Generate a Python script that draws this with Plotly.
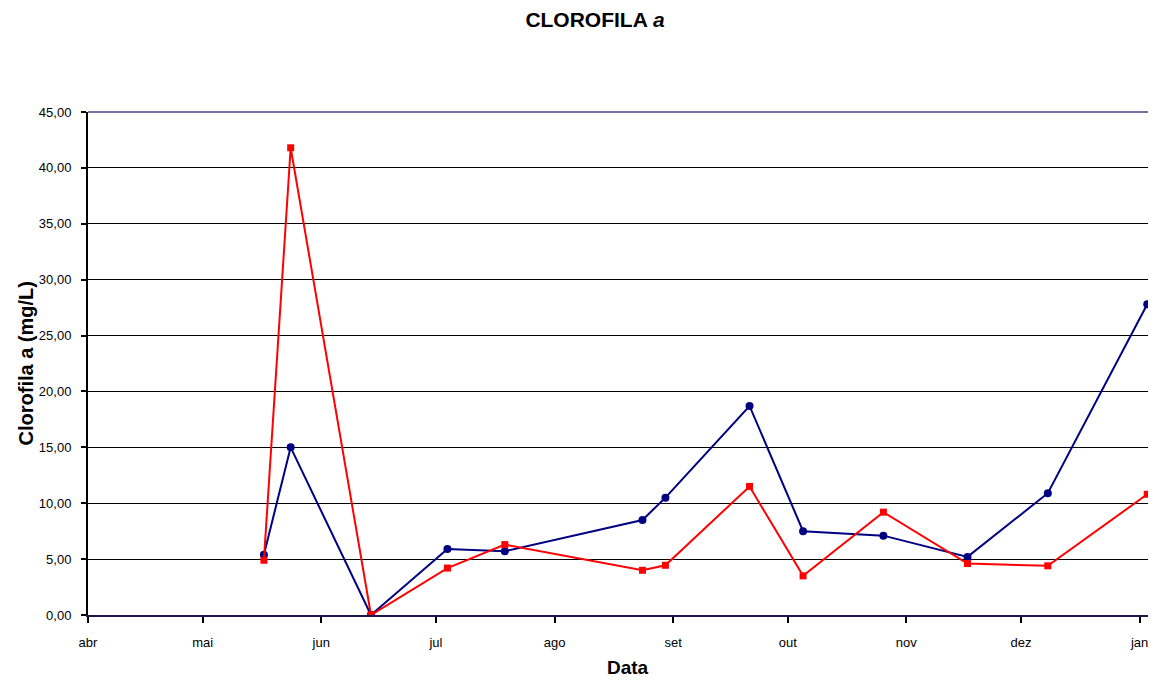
import plotly.graph_objects as go

dates = ["2007-05-17", "2007-05-24", "2007-06-14", "2007-07-04", "2007-07-19",
         "2007-08-24", "2007-08-30", "2007-09-21", "2007-10-05", "2007-10-26",
         "2007-11-17", "2007-12-08", "2008-01-03"]
serie_azul = [5.4, 15.0, 0.0, 5.9, 5.7, 8.5, 10.5, 18.7, 7.5, 7.1, 5.2, 10.9, 27.8]
serie_vermelha = [4.9, 41.8, 0.0, 4.2, 6.3, 4.0, 4.45, 11.5, 3.5, 9.2, 4.6, 4.4, 10.8]

month_ticks = ["2007-04-01", "2007-05-01", "2007-06-01", "2007-07-01", "2007-08-01",
               "2007-09-01", "2007-10-01", "2007-11-01", "2007-12-01", "2008-01-01"]
month_labels = ["abr", "mai", "jun", "jul", "ago", "set", "out", "nov", "dez", "jan"]
y_ticks = [0, 5, 10, 15, 20, 25, 30, 35, 40, 45]

W, H = 1148, 673
L, T, B = 80, 104, 66

fig = go.Figure()
fig.add_trace(go.Scatter(x=dates, y=serie_azul, mode="lines+markers",
                         line=dict(color="#000080", width=2),
                         marker=dict(symbol="circle", size=8, color="#000080"),
                         showlegend=False))
fig.add_trace(go.Scatter(x=dates, y=serie_vermelha, mode="lines+markers",
                         line=dict(color="#FF0000", width=2),
                         marker=dict(symbol="square", size=7, color="#FF0000"),
                         showlegend=False))

fig.add_shape(type="line", xref="paper", yref="paper", x0=0, x1=1, y0=1, y1=1,
              line=dict(color="#7474a6", width=2), layer="above")

fig.add_annotation(text="<b>Clorofila a (mg/L)</b>", xref="paper", yref="paper",
                   x=0, y=0.5, xanchor="center", yanchor="middle",
                   xshift=-(88 - 25), textangle=-90, showarrow=False,
                   font=dict(size=20, color="black"))
fig.add_annotation(text="<b>Data</b>", xref="paper", yref="paper",
                   x=0.5, y=0, xanchor="center", yanchor="bottom",
                   xshift=6, yshift=-(B - 1), showarrow=False,
                   font=dict(size=19, color="black"))

fig.update_layout(
    width=W, height=H,
    paper_bgcolor="white", plot_bgcolor="white",
    margin=dict(l=L, r=0, t=T, b=B),
    separators=",.",
    font=dict(family="Liberation Sans, Arial, sans-serif", color="black", size=13),
    title=dict(text="<b>CLOROFILA <i>a</i></b>", x=587 / W, xanchor="center",
               xref="container", y=1 - 12 / H, yanchor="middle",
               font=dict(size=21)),
    xaxis=dict(type="date", range=["2007-04-01", "2008-01-05 07:00"],
               tickvals=month_ticks, ticktext=month_labels,
               showgrid=False, zeroline=False,
               showline=True, linecolor="#1a1a4a", linewidth=2,
               ticks="outside", ticklen=6, tickwidth=1.5, tickcolor="black",
               ticklabelstandoff=8,
               tickfont=dict(size=13)),
    yaxis=dict(range=[0, 45], tickvals=y_ticks, tickformat=".2f",
               showgrid=True, gridcolor="black", gridwidth=1,
               zeroline=False, showline=True, linecolor="black", linewidth=2,
               ticks="outside", ticklen=5, tickwidth=1.5, tickcolor="black",
               ticklabelstandoff=7,
               tickfont=dict(size=13)),
)

fig.write_html("out.html")
